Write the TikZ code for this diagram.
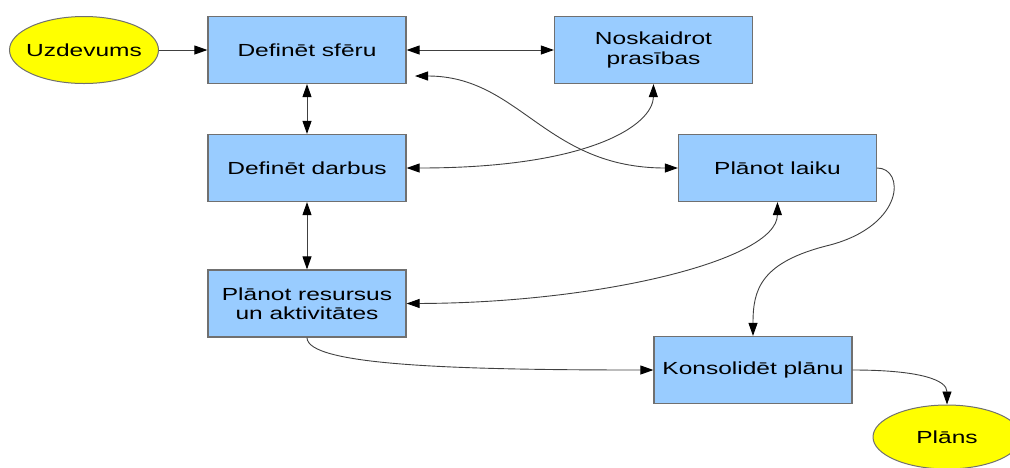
\documentclass[tikz,border=0pt]{standalone}
\usepackage{fontspec}
\setmainfont{Liberation Sans}[FakeStretch=1.4]
\usetikzlibrary{shapes.geometric,arrows.meta}
\definecolor{boxblue}{HTML}{99CCFF}
\definecolor{ellyellow}{HTML}{FFFF00}
\definecolor{edgegray}{HTML}{707070}
\definecolor{linegray}{HTML}{404040}
\tikzset{
  stepbox/.style={rectangle,draw=edgegray,line width=1.2pt,fill=boxblue,
    minimum width=198pt,minimum height=67pt,inner sep=0pt,align=center,
    font=\fontsize{17.5}{19.5}\selectfont},
  termnode/.style={ellipse,draw=edgegray,line width=1pt,fill=ellyellow,
    inner xsep=-25pt,inner ysep=0pt,font=\fontsize{17.5}{19.5}\selectfont},
  conn/.style={draw=linegray,line width=0.9pt,-{Triangle[length=13pt,width=9pt,color=black]}},
  biconn/.style={draw=linegray,line width=0.9pt,{Triangle[length=13pt,width=9pt,color=black]}-{Triangle[length=13pt,width=9pt,color=black]}}
}
\begin{document}
\begin{tikzpicture}[x=1pt,y=-1pt]
\useasboundingbox (0,0) rectangle (1010,467);
\node[termnode,minimum width=149pt,minimum height=67pt] (uz) at (84,50) {Uzdevums};
\node[stepbox] (sf) at (307,50) {Definēt sfēru};
\node[stepbox] (nos) at (653.5,50) {Noskaidrot\\prasības};
\node[stepbox] (dd) at (307,168) {Definēt darbus};
\node[stepbox] (pl) at (777.5,168) {Plānot laiku};
\node[stepbox] (pr) at (307,303.5) {Plānot resursus\\un aktivitātes};
\node[stepbox] (ko) at (753,370) {Konsolidēt plānu};
\node[termnode,minimum width=148pt,minimum height=64pt] (pn) at (947,437) {Plāns};
\coordinate (c5) at (415,76);

\draw[conn] (uz) -- (sf);
\draw[biconn] (sf) -- (nos);
\draw[biconn] (sf) -- (dd);
\draw[biconn] (dd) -- (pr);
\draw[biconn] (c5) .. controls (520,76) and (545,168) .. (pl.west);
\draw[biconn] (dd.east) .. controls (590,168) and (653,125) .. (nos.south);
\draw[biconn] (pr.east) .. controls (600,303) and (777,260) .. (pl.south);
\draw[conn] (pl.east) .. controls (905,168) and (905,225) .. (830,245)
  .. controls (760,262) and (753,290) .. (ko.north);
\draw[conn] (pr.south) .. controls (307,365) and (450,370) .. (ko.west);
\draw[conn] (ko.east) .. controls (920,370) and (947,380) .. (pn.north);
\end{tikzpicture}
\end{document}
